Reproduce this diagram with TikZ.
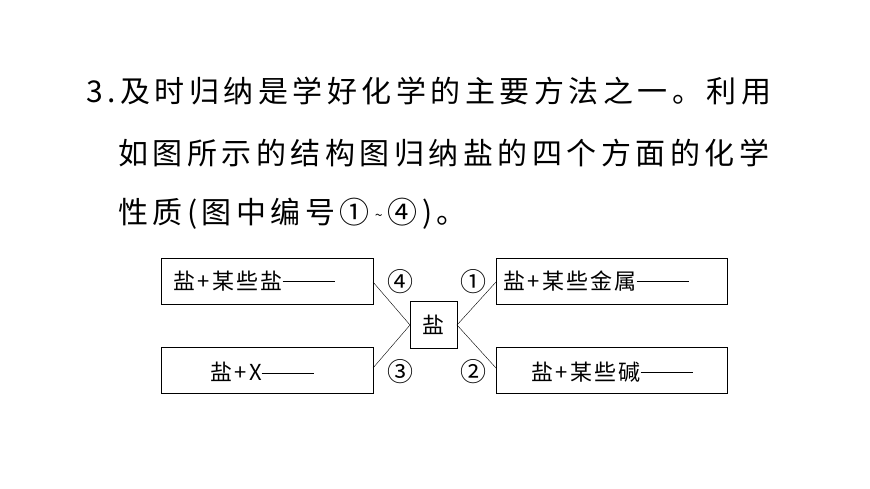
\documentclass[tikz,border=0pt]{standalone}
\usepackage{fontspec}
\newfontfamily\cjk{Noto Sans CJK SC}
\newfontfamily\cjkw[LetterSpace=15]{Noto Sans CJK SC}
\newfontfamily\cjkb[LetterSpace=10]{Noto Sans CJK SC}
\newcommand\longdash{\rule[0.33em]{52pt}{0.8pt}}
\begin{document}
\begin{tikzpicture}[x=1pt,y=-1pt,
  box/.style={draw,line width=0.8pt,rectangle,inner sep=0pt},
  lbl/.style={font=\cjkb\fontsize{22}{24}\selectfont},
  num/.style={font=\cjk\fontsize{26}{28}\selectfont},
  ttl/.style={anchor=west,inner sep=0pt,font=\cjkw\fontsize{30}{32}\selectfont}]
\useasboundingbox (0,0) rectangle (870,489);
\node[ttl] (t1) at (86,91) {3.及时归纳是学好化学的主要方法之一。利用};
\node[ttl] (t2) at (118,153) {如图所示的结构图归纳盐的四个方面的化学};
\node[ttl] (t3) at (118,214) {性质(图中编号①\,\raisebox{0.2ex}{\fontsize{14}{14}\selectfont\textasciitilde}\,④)。};
\node[box,minimum width=212pt,minimum height=46pt] (a) at (267,281) {};
\node[box,minimum width=212pt,minimum height=46pt] (b) at (267,370) {};
\node[box,minimum width=231pt,minimum height=46pt] (c) at (611.5,281) {};
\node[box,minimum width=231pt,minimum height=46pt] (d) at (611.5,370) {};
\node[box,minimum width=47pt,minimum height=47pt,lbl] (s) at (433.5,324.5) {盐};
\node[lbl,anchor=west] (la) at (170,281) {盐+某些盐\longdash};
\node[lbl] (lb) at (262,372) {盐+X\longdash};
\node[lbl,anchor=west] (lc) at (500,281) {盐+某些金属\longdash};
\node[lbl] (ld) at (612,372) {盐+某些碱\longdash};
\coordinate (a1) at (373,282); \coordinate (b1) at (373,368);
\coordinate (c1) at (496,282); \coordinate (d1) at (496,368);
\coordinate (sl) at (410,325); \coordinate (sr) at (457,325);
\draw (a1) -- (sl) -- (b1);
\draw (c1) -- (sr) -- (d1);
\node[num] (n4) at (400,282) {④};
\node[num] (n1) at (473,282) {①};
\node[num] (n3) at (400,372) {③};
\node[num] (n2) at (473,372) {②};
\end{tikzpicture}
\end{document}
